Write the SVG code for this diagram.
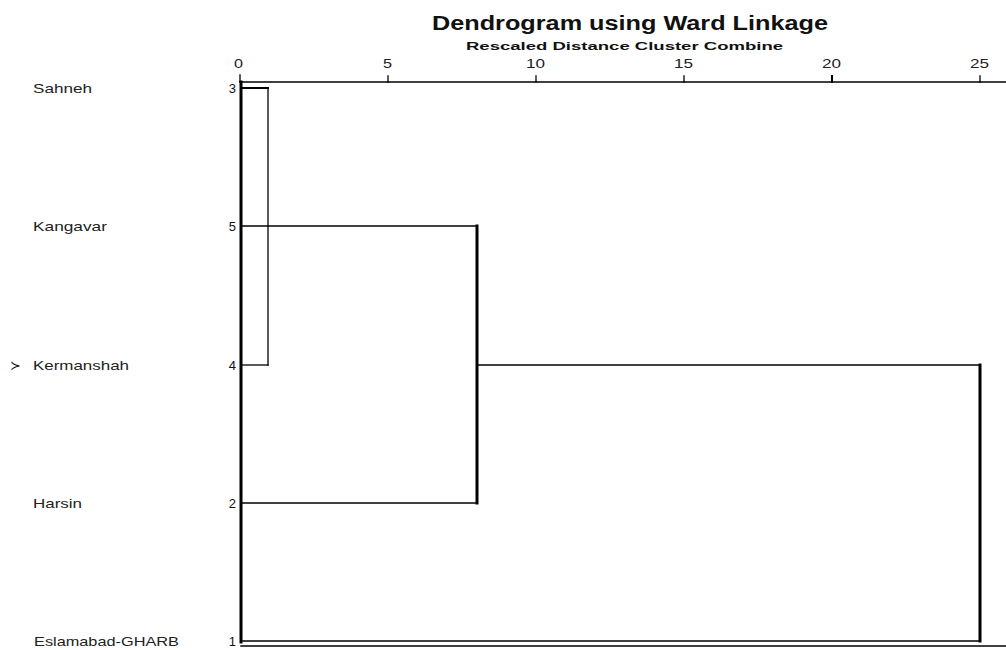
<svg xmlns="http://www.w3.org/2000/svg" width="1006" height="650" viewBox="0 0 1006 650">
<style>
text{font-family:"Liberation Sans",Arial,sans-serif;fill:#111}
.name{font-size:13px;fill:#222}
.num{font-size:13px;text-anchor:end}
.tick{font-size:13px;fill:#222}
.ln{stroke:#000;fill:none;stroke-linecap:square}
.thin{stroke-width:1.3}
.thick{stroke-width:3}
</style>
<rect width="1006" height="650" fill="#fff"/>
<text x="432" y="30" font-size="19.5" font-weight="bold" textLength="396" lengthAdjust="spacingAndGlyphs">Dendrogram using Ward Linkage</text>
<text x="466" y="50" font-size="11.5" font-weight="bold" textLength="317" lengthAdjust="spacingAndGlyphs">Rescaled Distance Cluster Combine</text>
<g id="axis">
<line class="ln thin" x1="240" y1="82" x2="1006" y2="82"/>
<line class="ln thin" x1="240" y1="75" x2="240" y2="82"/>
<line class="ln thin" x1="388" y1="76" x2="388" y2="82"/>
<line class="ln thin" x1="536" y1="76" x2="536" y2="82"/>
<line class="ln thin" x1="684" y1="76" x2="684" y2="82"/>
<line class="ln" stroke-width="2" x1="832" y1="76" x2="832" y2="82"/>
<line class="ln thin" x1="980" y1="76" x2="980" y2="82"/>
<text class="tick" x="234" y="68" textLength="9" lengthAdjust="spacingAndGlyphs">0</text>
<text class="tick" x="383" y="68" textLength="9" lengthAdjust="spacingAndGlyphs">5</text>
<text class="tick" x="526" y="68" textLength="19" lengthAdjust="spacingAndGlyphs">10</text>
<text class="tick" x="674" y="68" textLength="19" lengthAdjust="spacingAndGlyphs">15</text>
<text class="tick" x="822" y="68" textLength="19" lengthAdjust="spacingAndGlyphs">20</text>
<text class="tick" x="970" y="68" textLength="19" lengthAdjust="spacingAndGlyphs">25</text>
</g>
<g id="n3"><text class="name" x="33" y="93" textLength="59" lengthAdjust="spacingAndGlyphs">Sahneh</text><text class="num" x="236" y="93">3</text></g>
<g id="n5"><text class="name" x="33" y="231" textLength="74" lengthAdjust="spacingAndGlyphs">Kangavar</text><text class="num" x="236" y="231">5</text></g>
<g id="n4"><text x="10" y="370" font-size="13">≻</text><text class="name" x="33" y="370" textLength="96" lengthAdjust="spacingAndGlyphs">Kermanshah</text><text class="num" x="236" y="370">4</text></g>
<g id="n2"><text class="name" x="33" y="508" textLength="49" lengthAdjust="spacingAndGlyphs">Harsin</text><text class="num" x="236" y="508">2</text></g>
<g id="n1"><text class="name" x="34" y="646" textLength="145" lengthAdjust="spacingAndGlyphs">Eslamabad-GHARB</text><text class="num" x="236" y="646">1</text></g>
<g id="connectors">
<line class="ln thick" x1="241" y1="82" x2="241" y2="642"/>
<line class="ln" stroke-width="2" x1="241" y1="88" x2="268" y2="88"/>
<line class="ln thin" x1="268" y1="88" x2="268" y2="365"/>
<line class="ln thin" x1="241" y1="365" x2="268" y2="365"/>
<line class="ln thin" x1="241" y1="226" x2="476" y2="226"/>
<line class="ln thin" x1="241" y1="503" x2="476" y2="503"/>
<line class="ln thick" x1="477" y1="226" x2="477" y2="503"/>
<line class="ln thin" x1="477" y1="365" x2="980" y2="365"/>
<line class="ln thick" x1="980" y1="365" x2="980" y2="641"/>
<line class="ln thin" x1="241" y1="641" x2="980" y2="641"/>
<line class="ln" stroke="#333" stroke-width="1.5" x1="241" y1="646" x2="1006" y2="646"/>
</g>
</svg>
